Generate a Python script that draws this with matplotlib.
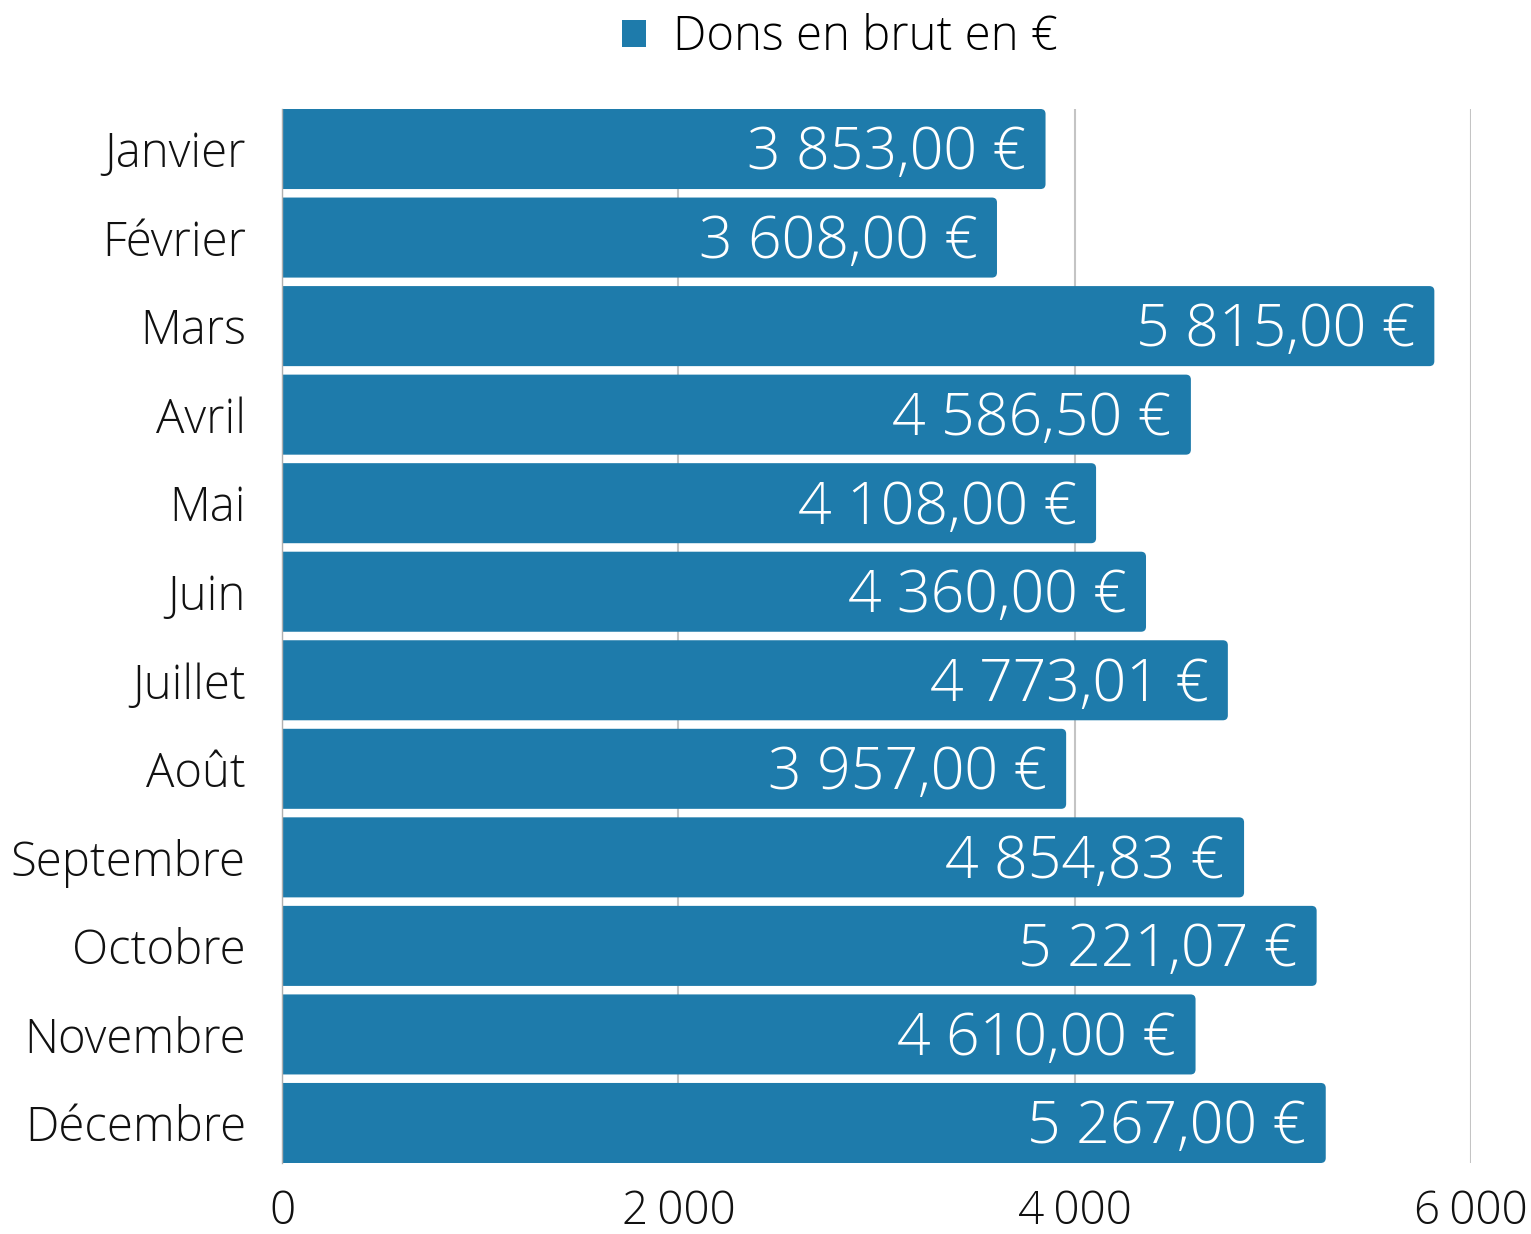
import matplotlib
matplotlib.use("Agg")
import matplotlib.pyplot as plt
from matplotlib.patches import FancyBboxPatch, Patch

months = ["Janvier", "Février", "Mars", "Avril", "Mai", "Juin", "Juillet",
          "Août", "Septembre", "Octobre", "Novembre", "Décembre"]
values = [3853.00, 3608.00, 5815.00, 4586.50, 4108.00, 4360.00, 4773.01,
          3957.00, 4854.83, 5221.07, 4610.00, 5267.00]
xticks = [0, 2000, 4000, 6000]
xtick_labels = ["0", "2\u2009000", "4\u2009000", "6\u2009000"]
series_name = "Dons en brut en €"

COLOR = "#1e7bab"
FONT = ["Open Sans", "DejaVu Sans"]
plt.rcParams["font.family"] = FONT

W, H = 1531, 1234
fig = plt.figure(figsize=(W / 100, H / 100), dpi=100)
ax = fig.add_axes([282 / W, 1 - 1163 / H, (1471 - 282) / W, (1163 - 109) / H])

bh = 0.904
ypos = list(range(len(months)))
bars = ax.barh(ypos, values, height=bh, color="none", edgecolor="none")

ax.set_xlim(0, 6000)
ax.set_ylim(len(months) - 1 + bh / 2, -bh / 2)

# rounded right corners (radius ~5 px)
px_x = 6000 / (1471 - 282)
px_y = (len(months) - 1 + bh) / (1163 - 109)
r = 5 * px_x
for b in bars:
    x0, y0, w, h = b.get_x(), b.get_y(), b.get_width(), b.get_height()
    p = FancyBboxPatch((x0 - 4 * r, y0), w + 4 * r, h,
                       boxstyle=f"round,pad=0,rounding_size={r}",
                       mutation_aspect=px_y / px_x,
                       facecolor=COLOR, edgecolor="none", zorder=2)
    p.set_clip_path(ax.patch)
    ax.add_patch(p)

def fmt(v):
    s = f"{v:,.2f}".replace(",", " ").replace(".", ",")
    return s + " €"

for y, v in zip(ypos, values):
    ax.annotate(fmt(v), (v, y), xytext=(-14, -3.5), textcoords="offset points",
                ha="right", va="center", color="white", fontsize=42.5,
                fontweight="light", zorder=3)

ax.set_yticks(ypos)
ax.set_yticklabels(months, fontsize=34, fontweight="light", color="#111111")
ax.set_xticks(xticks)
ax.set_xticklabels(xtick_labels, fontsize=33, fontweight="light", color="#111111")
ax.tick_params(axis="y", length=0, pad=26)
ax.tick_params(axis="x", length=0, pad=19)

ax.grid(axis="x", color="#c4c4c4", linewidth=1.5, zorder=0)
ax.set_axisbelow(True)
for s in ["top", "right", "bottom"]:
    ax.spines[s].set_visible(False)
ax.spines["left"].set_color("#b0b0b0")
ax.spines["left"].set_linewidth(1)
ax.spines["left"].set_zorder(4)

handle = Patch(facecolor=COLOR, edgecolor="none")
fig.legend([handle], [series_name], loc="center",
           bbox_to_anchor=(840 / W, 1 - 38 / H), frameon=False,
           prop={"family": FONT, "size": 34, "weight": "light"},
           handlelength=0.51, handleheight=0.51, handletextpad=0.57)

fig.savefig("out.png", dpi=100, facecolor="white")
